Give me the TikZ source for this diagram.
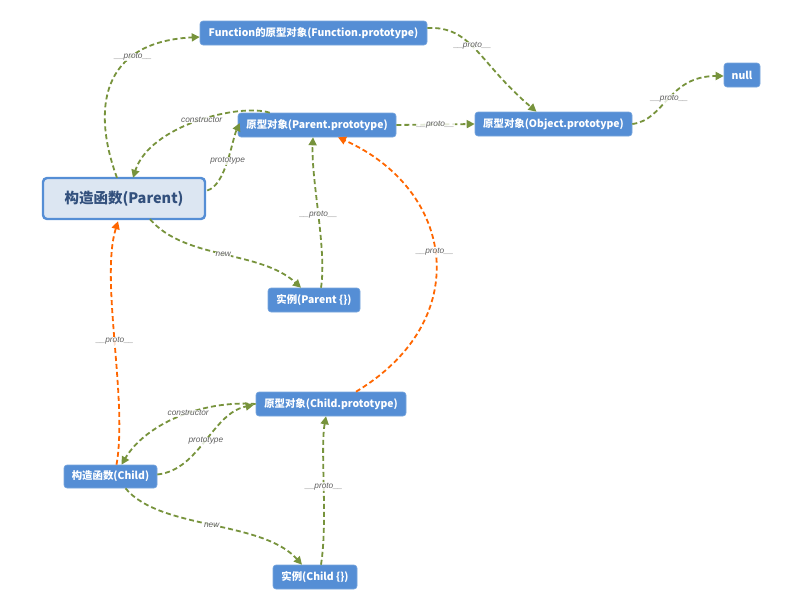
\documentclass[tikz,border=0pt]{standalone}
\usepackage{fontspec}
\setmainfont{Noto Sans CJK SC}
\newfontfamily\labfont{Liberation Sans}
\usetikzlibrary{arrows.meta,calc}
\definecolor{boxblue}{RGB}{85,142,213}
\definecolor{lightbox}{RGB}{220,230,242}
\definecolor{darktext}{RGB}{50,80,125}
\definecolor{arrgreen}{RGB}{119,147,60}
\definecolor{arrorange}{RGB}{255,102,0}
\definecolor{labgray}{RGB}{95,95,95}
\begin{document}
\begin{tikzpicture}[x=1pt,y=-1pt,
  objbox/.style={fill=boxblue,draw=boxblue!80!white,line width=0.6pt,rounded corners=3pt,text=white,font=\bfseries\fontsize{10.4}{11}\selectfont,inner sep=0pt,minimum height=24pt},
  mainbox/.style={fill=lightbox,draw=boxblue,line width=2.4pt,rounded corners=4pt,text=darktext,font=\bfseries\fontsize{14.5}{16}\selectfont,inner sep=0pt,minimum width=162pt,minimum height=41pt},
  link/.style={draw=arrgreen,line width=1.8pt,dash pattern=on 5pt off 3pt,-{Triangle[length=8pt,width=8pt]}},
  olink/.style={link,draw=arrorange},
  lab/.style={font=\labfont\itshape\fontsize{8.3}{9}\selectfont,text=labgray,fill=white,fill opacity=0.8,text opacity=1,inner sep=0.6pt}]
\useasboundingbox (0,0) rectangle (808,597);
% nodes
\node[objbox,minimum width=227pt] (fn) at (313.5,33) {Function的原型对象(Function.prototype)};
\node[objbox,minimum width=36pt] (null) at (742,75) {null};
\node[objbox,minimum width=157pt] (obj) at (553.5,124) {原型对象(Object.prototype)};
\node[objbox,minimum width=158pt] (pproto) at (317,125) {原型对象(Parent.prototype)};
\node[mainbox] (pctor) at (124,198.5) {构造函数(Parent)};
\node[objbox,minimum width=92pt] (pinst) at (314,300) {实例(Parent \{\})};
\node[objbox,minimum width=150pt] (cproto) at (331,404) {原型对象(Child.prototype)};
\node[objbox,minimum width=93pt,minimum height=23pt] (cctor) at (110.5,476.5) {构造函数(Child)};
\node[objbox,minimum width=84pt] (cinst) at (315,577) {实例(Child \{\})};
% green links
\draw[link] ($(pctor.north)+(-7,1)$) .. controls (92,110) and (100,42) .. ($(fn.west)+(0,4)$)
  node[lab,pos=0.7] {\_\_proto\_\_};
\draw[link] ($(fn.east)+(0,-5)$) .. controls (472,26) and (478,62) .. ($(obj.north)+(-17,0)$)
  node[lab,pos=0.45] {\_\_proto\_\_};
\draw[link] (pproto.east) -- (obj.west) node[lab,midway] {\_\_proto\_\_};
\draw[link] (obj.east) .. controls (665,120) and (668,76) .. ($(null.west)+(0,1)$)
  node[lab,pos=0.5] {\_\_proto\_\_};
\draw[link] ($(pproto.north west)+(32,0)$) .. controls (240,103) and (150,125) .. ($(pctor.north)+(9,1)$)
  node[lab,pos=0.47] {constructor};
\draw[link] ($(pctor.east)+(1,-8)$) .. controls (226,185) and (232,140) .. ($(pproto.west)+(2,-2)$)
  node[lab,pos=0.5] {prototype};
\draw[link] ($(pinst.north)+(7,0)$) .. controls (327,250) and (311,180) .. ($(pproto.south)+(-4,0)$)
  node[lab,pos=0.5] {\_\_proto\_\_};
\draw[link] ($(pctor.south)+(26,-1)$) .. controls (185,260) and (260,250) .. ($(pinst.north)+(-13,0)$)
  node[lab,pos=0.5] {new};
\draw[link] (cproto.west) .. controls (200,400) and (145,425) .. ($(cctor.north)+(11,0)$)
  node[lab,pos=0.42] {constructor};
\draw[link] ($(cctor.east)+(0,-2)$) .. controls (200,470) and (212,413) .. ($(cproto.west)+(-2,1)$)
  node[lab,pos=0.5] {prototype};
\draw[link] ($(cctor.south)+(15,0)$) .. controls (160,530) and (262,520) .. ($(cinst.north)+(-13,0)$)
  node[lab,pos=0.5] {new};
\draw[link] ($(cinst.north)+(6,0)$) .. controls (328,520) and (320,450) .. ($(cproto.south)+(-5,0)$)
  node[lab,pos=0.5] {\_\_proto\_\_};
% orange links
\draw[olink] ($(cproto.north)+(25,0)$) .. controls (475,320) and (455,190) .. ($(pproto.south)+(21,0)$)
  node[lab,pos=0.52] {\_\_proto\_\_};
\draw[olink] ($(cctor.north)+(6,0)$) .. controls (128,400) and (100,280) .. ($(pctor.south)+(-6,1)$)
  node[lab,pos=0.5] {\_\_proto\_\_};
\end{tikzpicture}
\end{document}
